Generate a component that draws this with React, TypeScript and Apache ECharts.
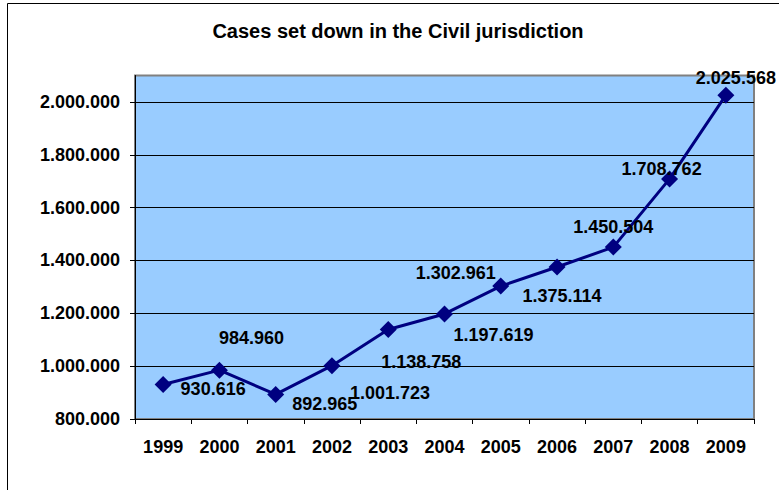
import React, { useEffect, useRef } from "react";
import * as echarts from "echarts";

const TITLE = "Cases set down in the Civil jurisdiction";
const years = ["1999", "2000", "2001", "2002", "2003", "2004", "2005", "2006", "2007", "2008", "2009"];
const cases = [930616, 984960, 892965, 1001723, 1138758, 1197619, 1302961, 1375114, 1450504, 1708762, 2025568];
const yMin = 800000;
const yMax = 2100000;
const yStep = 200000;

// label placement (style only)
const labelShift: [number, number][] = [
  [50, 5], [32, -32], [49, 10], [58, 27], [33, 33], [49, 21],
  [-45, -13], [5, 29], [0, -20], [-8, -10], [10, -17],
];

const fmt = (v: number) => {
  const s = Math.round(v).toString();
  return s.replace(/\B(?=(\d{3})+(?!\d))/g, ".");
};

const FONT = "'Liberation Sans', Arial, sans-serif";

export default function App() {
  const ref = useRef<HTMLDivElement>(null);
  useEffect(() => {
    document.body.style.margin = "0";
    if (!ref.current) return;
    const chart = echarts.init(ref.current, undefined, { renderer: "svg" });
    chart.setOption({
      animation: false,
      backgroundColor: "#ffffff",
      graphic: [
        {
          type: "rect",
          shape: { x: 7.5, y: 3.5, width: 900, height: 700 },
          style: { fill: "none", stroke: "#000", lineWidth: 1 },
          silent: true,
          z: 100,
        },
        {
          type: "text",
          x: 398,
          y: 31,
          style: {
            text: TITLE,
            fill: "#000",
            font: `bold 20px ${FONT}`,
            textAlign: "center",
            textVerticalAlign: "middle",
          },
        },
      ],
      grid: {
        left: 135,
        right: 25,
        top: 75.5,
        bottom: 71,
        show: true,
        backgroundColor: "#99CCFF",
        borderColor: "#808080",
        borderWidth: 2,
        containLabel: false,
      },
      xAxis: {
        type: "category",
        data: years,
        boundaryGap: true,
        axisLine: { lineStyle: { color: "#000", width: 1 } },
        axisTick: { show: true, length: 5, lineStyle: { color: "#000" } },
        axisLabel: {
          color: "#000",
          fontWeight: "bold",
          fontSize: 18,
          fontFamily: FONT,
          margin: 19,
          interval: 0,
        },
      },
      yAxis: {
        type: "value",
        min: yMin,
        max: yMax,
        interval: yStep,
        axisLine: { show: true, lineStyle: { color: "#000", width: 1 } },
        axisTick: { show: true, length: 5, lineStyle: { color: "#000" } },
        splitLine: { show: true, showMaxLine: false, lineStyle: { color: "#000", width: 1 } },
        axisLabel: {
          color: "#000",
          fontWeight: "bold",
          fontSize: 18,
          fontFamily: FONT,
          margin: 15,
          showMaxLabel: false,
          formatter: (v: number) => (v > 2000000 ? "" : fmt(v)),
        },
      },
      series: [
        {
          type: "line",
          data: cases.map((v, i) => ({
            value: v,
            label: { offset: labelShift[i] },
          })),
          clip: false,
          lineStyle: { color: "#000080", width: 3 },
          itemStyle: { color: "#000080" },
          symbol: "diamond",
          symbolSize: 17,
          label: {
            show: true,
            position: "inside",
            color: "#000",
            fontWeight: "bold",
            fontSize: 18,
            fontFamily: FONT,
            formatter: (p: any) => fmt(p.value),
          },
          z: 5,
        },
      ],
    });
    return () => chart.dispose();
  }, []);
  return <div ref={ref} style={{ width: 779, height: 490 }} />;
}
